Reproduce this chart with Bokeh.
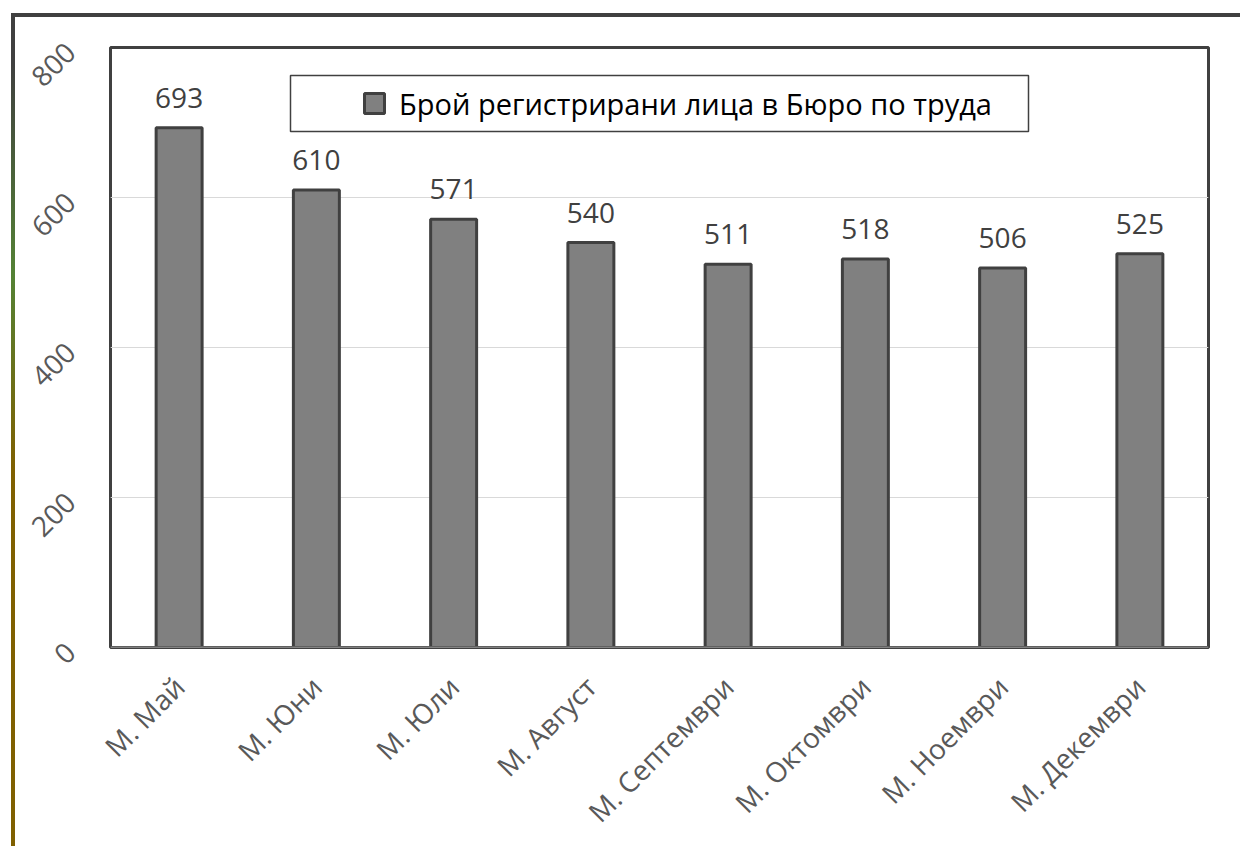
import math
from bokeh.plotting import figure
from bokeh.models import (ColumnDataSource, FactorRange, Range1d, FixedTicker,
                          LabelSet, Legend, LegendItem, Span, BoxAnnotation)
from bokeh.core.properties import value
from bokeh.embed import file_html
from bokeh.resources import INLINE

categories = ["М. Май", "М. Юни", "М. Юли", "М. Август", "М. Септември",
              "М. Октомври", "М. Ноември", "М. Декември"]
values = [693, 610, 571, 540, 511, 518, 506, 525]
series_name = "Брой регистрирани лица в Бюро по труда"
y_ticks = [0, 200, 400, 600, 800]

FONT = "Open Sans"

src = ColumnDataSource(dict(cat=categories, val=values,
                            lbl=[str(v) for v in values]))

p = figure(width=1240, height=846, x_range=FactorRange(*categories, range_padding=0),
           y_range=Range1d(0, 800), output_backend="svg", toolbar_location=None,
           min_border_left=110, min_border_right=32, min_border_top=47,
           min_border_bottom=199)

p.border_fill_color = None
p.background_fill_color = "white"
p.outline_line_color = "#404040"
p.outline_line_width = 3
p.styles = {
    "background": ("linear-gradient(#404040,#404040) 11px 13px / 100% 4px no-repeat, "
                   "linear-gradient(to bottom, #404040 6%, #548235 31%, #7f6000 54%, #7f6000 100%) "
                   "11px 13px / 4px 100% no-repeat, white"),
}

bars = p.vbar(x="cat", top="val", width=0.335, source=src,
              fill_color="#808080", line_color="#404040", line_width=3)

p.add_layout(Span(location=0, dimension="width", line_color="#bfbfbf", line_width=1.5))

labels = LabelSet(x="cat", y="val", text="lbl", source=src, text_align="center",
                  text_baseline="alphabetic", y_offset=20, text_font=value(FONT),
                  text_font_size="28px", text_color="#404040")
p.add_layout(labels)

# legend frame
p.add_layout(BoxAnnotation(left=1.3115, right=6.6885, bottom=688, top=762.7,
                           fill_color="white", fill_alpha=1,
                           line_color="#404040", line_alpha=1, line_width=1.5))

# legend entry via a square marker placed outside the visible range
dummy = p.scatter(x=[categories[0]], y=[-500], marker="square", fill_color="#808080",
                  line_color="#404040", line_width=3)
legend = Legend(items=[LegendItem(label=series_name, renderers=[dummy])],
                location=(239, 519), glyph_width=50, glyph_height=50,
                padding=0, label_standoff=0, margin=0,
                label_text_font=FONT, label_text_font_size="29px",
                label_text_color="#000000", border_line_color=None,
                background_fill_alpha=0)
p.add_layout(legend, "center")

p.xgrid.grid_line_color = None
p.ygrid.grid_line_color = "#d9d9d9"
p.ygrid.grid_line_width = 1
p.yaxis.ticker = FixedTicker(ticks=y_ticks)

for ax in (p.xaxis[0], p.yaxis[0]):
    ax.axis_line_color = None
    ax.major_tick_line_color = None
    ax.minor_tick_line_color = None
    ax.major_label_text_font = FONT
    ax.major_label_text_font_size = "28px"
    ax.major_label_text_color = "#595959"

p.yaxis.major_label_orientation = math.pi / 4
p.yaxis.major_label_standoff = 34
p.xaxis.major_label_orientation = math.pi / 4
p.xaxis.major_label_standoff = 28

open("out.html", "w").write(file_html(p, INLINE))
